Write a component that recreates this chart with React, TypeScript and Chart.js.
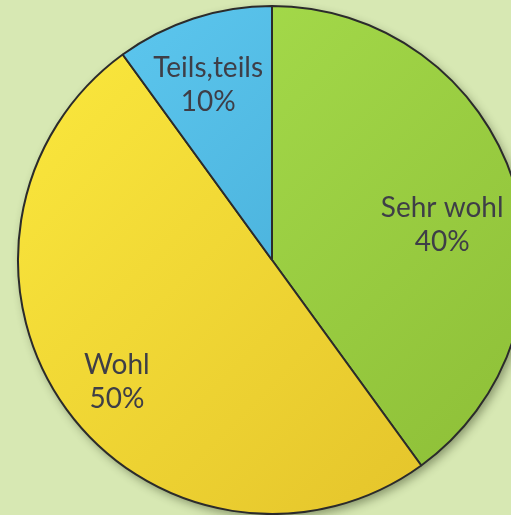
import React, { useEffect, useRef } from "react";
import { Chart, registerables } from "chart.js";

Chart.register(...registerables);

const categories = ["Sehr wohl", "Wohl", "Teils,teils"];
const values = [40, 50, 10];
const percentLabels = ["40%", "50%", "10%"];

const BG = "#d7e8b3";
const TEXT = "#3e3e47";
const FONT = "28px Lato";
// label anchor: fraction of radius at mid-angle, plus pixel nudges (layout only)
const labelRadiusFactor = 0.75;
const labelNudges = [
  [-11, 16],
  [-1, 2],
  [-5, -2],
];
const gradientStops = [
  ["#aae14f", "#8cbd36"],
  ["#fcea3e", "#e2c029"],
  ["#60cbf2", "#3a9fcb"],
];

export default function App() {
  const ref = useRef<HTMLCanvasElement | null>(null);

  useEffect(() => {
    const canvas = ref.current;
    if (!canvas) return;

    const shadowPlugin = {
      id: "pieShadow",
      beforeDatasetsDraw(chart: any) {
        const meta = chart.getDatasetMeta(0);
        const arc = meta.data[0];
        if (!arc) return;
        const { x, y, outerRadius } = arc.getProps(["x", "y", "outerRadius"], true);
        const c = chart.ctx;
        c.save();
        c.shadowColor = "rgba(40,50,20,0.45)";
        c.shadowBlur = 10;
        c.shadowOffsetX = 3;
        c.shadowOffsetY = 4;
        c.fillStyle = BG;
        c.beginPath();
        c.arc(x, y, outerRadius, 0, Math.PI * 2);
        c.fill();
        c.restore();
      },
    };

    const labelPlugin = {
      id: "pieLabels",
      afterDatasetsDraw(chart: any) {
        const meta = chart.getDatasetMeta(0);
        const c = chart.ctx;
        c.save();
        c.fillStyle = TEXT;
        c.font = FONT;
        c.textAlign = "center";
        c.textBaseline = "alphabetic";
        meta.data.forEach((arc: any, i: number) => {
          const { x, y, startAngle, endAngle, outerRadius } = arc.getProps(
            ["x", "y", "startAngle", "endAngle", "outerRadius"],
            true
          );
          const mid = (startAngle + endAngle) / 2;
          const r = outerRadius * labelRadiusFactor;
          const lx = x + Math.cos(mid) * r + labelNudges[i][0];
          const ly = y + Math.sin(mid) * r + labelNudges[i][1];
          c.fillText(categories[i], lx, ly);
          c.fillText(percentLabels[i], lx, ly + 34);
        });
        c.restore();
      },
    };

    const chart = new Chart(canvas, {
      type: "pie",
      data: {
        labels: categories,
        datasets: [
          {
            data: values,
            backgroundColor: (ctx: any) => {
              const i = ctx.dataIndex ?? 0;
              const area = ctx.chart.chartArea;
              if (!area) return gradientStops[i][0];
              const cx = (area.left + area.right) / 2;
              const cy = (area.top + area.bottom) / 2;
              const r = Math.min(area.right - area.left, area.bottom - area.top) / 2;
              const g = ctx.chart.ctx.createLinearGradient(cx - r, cy - r, cx + r, cy + r);
              g.addColorStop(0, gradientStops[i][0]);
              g.addColorStop(1, gradientStops[i][1]);
              return g;
            },
            borderColor: "#2b2b2b",
            borderWidth: 2,
          },
        ],
      },
      options: {
        responsive: false,
        animation: false,
        layout: { padding: { left: 17, right: 13, top: 5, bottom: 0 } },
        plugins: {
          legend: { display: false },
          tooltip: { enabled: false },
        },
      },
      plugins: [shadowPlugin, labelPlugin],
    });

    return () => chart.destroy();
  }, []);

  return (
    <div
      style={{
        position: "fixed",
        left: 0,
        top: 0,
        width: 511,
        height: 515,
        background: BG,
        overflow: "hidden",
      }}
    >
      <canvas
        ref={ref}
        width={540}
        height={515}
        style={{ position: "absolute", left: 0, top: 0, width: 540, height: 515 }}
      />
    </div>
  );
}
